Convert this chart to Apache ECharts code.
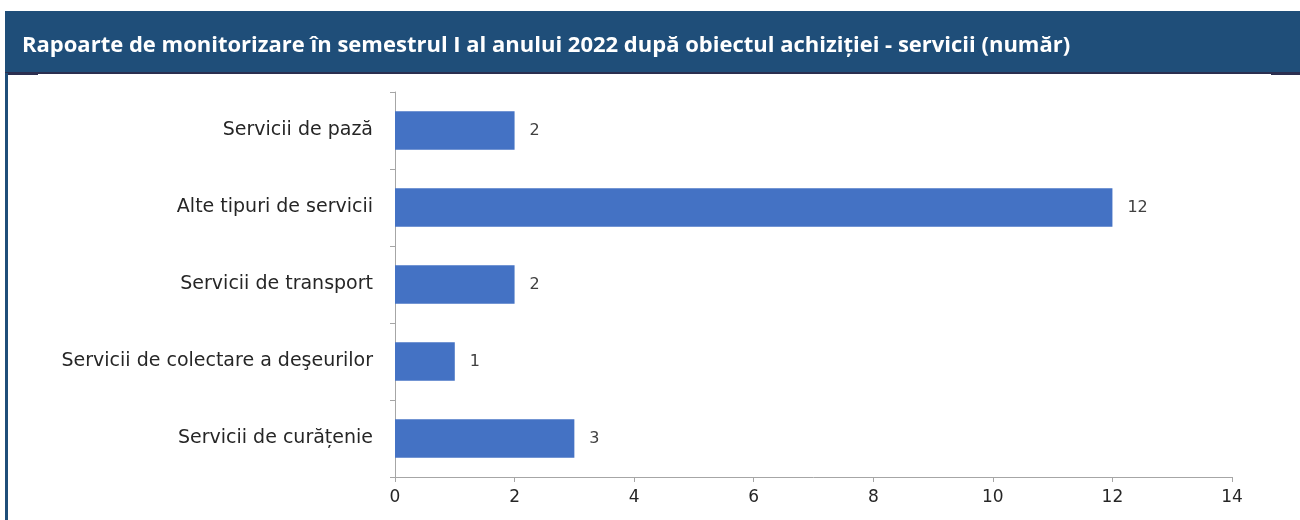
<!DOCTYPE html>
<html>
<head>
<meta charset="utf-8">
<script src="https://cdn.jsdelivr.net/npm/echarts@6/dist/echarts.min.js"></script>
<style>
  html, body { margin: 0; padding: 0; background: #fff; }
  #chart { width: 1300px; height: 520px; }
</style>
</head>
<body>
<div id="chart"></div>
<script>
// date
var titlu = 'Rapoarte de monitorizare în semestrul I al anului 2022 după obiectul achiziției - servicii (număr)';
var categorii = ['Servicii de pază', 'Alte tipuri de servicii', 'Servicii de transport', 'Servicii de colectare a deşeurilor', 'Servicii de curățenie'];
var valori = [2, 12, 2, 1, 3];
var axaMin = 0, axaMax = 14, axaPas = 2;

var myChart = echarts.init(document.getElementById('chart'));
var options = {
  backgroundColor: '#fff',
  animation: false,
  textStyle: { fontFamily: 'DejaVu Sans' },
  graphic: [
    { type: 'rect', shape: { x: 5, y: 11, width: 1295, height: 62 }, style: { fill: '#1f4e79' } },
    { type: 'rect', shape: { x: 5, y: 72, width: 1295, height: 2 }, style: { fill: '#2b2f50' } },
    { type: 'rect', shape: { x: 8, y: 72, width: 30, height: 3 }, style: { fill: '#2b2f50' } },
    { type: 'rect', shape: { x: 1271, y: 72, width: 29, height: 3 }, style: { fill: '#2b2f50' } },
    { type: 'rect', shape: { x: 5, y: 73, width: 3, height: 447 }, style: { fill: '#1f4e79' } },
    {
      type: 'text', x: 22, y: 46,
      style: { text: titlu, fill: '#fff', font: 'bold 22px "Open Sans"', verticalAlign: 'middle' }
    }
  ],
  grid: { left: 395, right: 68, top: 92, bottom: 43 },
  xAxis: {
    type: 'value',
    min: axaMin, max: axaMax, interval: axaPas,
    axisLine: { show: true, lineStyle: { color: '#a6a6a6' } },
    axisTick: { show: true, length: 5, lineStyle: { color: '#a6a6a6' } },
    splitLine: { show: false },
    axisLabel: { color: '#262626', fontSize: 17, margin: 12 }
  },
  yAxis: {
    type: 'category',
    inverse: true,
    data: categorii,
    axisLine: { show: true, lineStyle: { color: '#a6a6a6' } },
    axisTick: { show: true, length: 5, lineStyle: { color: '#a6a6a6' } },
    axisLabel: { color: '#262626', fontSize: 19, margin: 22 }
  },
  series: [
    {
      type: 'bar',
      data: valori,
      barWidth: '50%',
      itemStyle: { color: '#4472c4' },
      label: { show: true, position: 'right', distance: 15, color: '#404040', fontSize: 16 }
    }
  ]
};
myChart.setOption(options);
</script>
</body>
</html>
